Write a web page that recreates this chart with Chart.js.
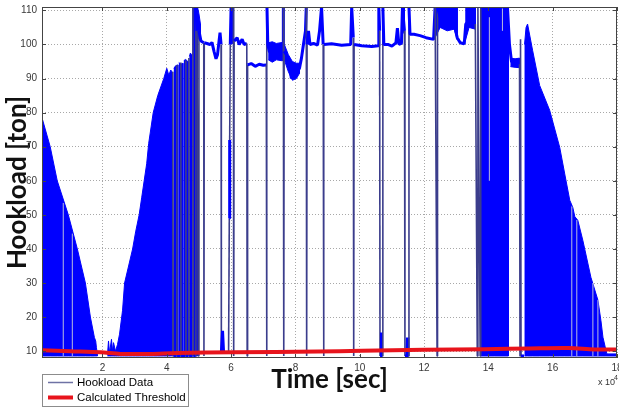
<!DOCTYPE html>
<html>
<head>
<meta charset="utf-8">
<script src="https://cdn.jsdelivr.net/npm/chart.js@4.4.1/dist/chart.umd.min.js"></script>
<style>
  html, body { margin: 0; padding: 0; background: #ffffff; }
  #wrap { width: 619px; height: 408px; }
</style>
</head>
<body>
<div id="wrap"><canvas id="chart" width="619" height="408"></canvas></div>
<script>
// Time is expressed in units of 1e4 s (the axis carries the "x 10^4" multiplier).
const xTicks = [2, 4, 6, 8, 10, 12, 14, 16, 18];
const yTicks = [10, 20, 30, 40, 50, 60, 70, 80, 90, 100, 110];

// Hookload trace: plateaus and the sharp drops to the slips weight.
const traceTime = [
  4.172, 4.188, 4.203, 4.306, 4.313, 4.319, 4.431, 4.438, 4.444, 4.588,
  4.594, 4.600, 4.681, 4.688, 4.694, 4.806, 4.813, 4.828, 4.900, 4.906,
  4.938, 4.984, 5.000, 5.063, 5.150, 5.156, 5.166, 5.250, 5.344, 5.406,
  5.469, 5.531, 5.578, 5.625, 5.656, 5.688, 5.697, 5.734, 5.766, 5.922,
  5.944, 5.956, 5.975, 6.000, 6.072, 6.081, 6.094, 6.188, 6.250, 6.344,
  6.406, 6.488, 6.500, 6.513, 6.625, 6.750, 6.875, 7.000, 7.094, 7.103,
  7.116, 7.141, 7.188, 7.313, 7.438, 7.563, 7.619, 7.625, 7.638, 7.650,
  7.719, 7.813, 7.875, 7.938, 8.000, 8.063, 8.125, 8.188, 8.250, 8.313,
  8.338, 8.350, 8.363, 8.406, 8.453, 8.563, 8.688, 8.750, 8.813, 8.863,
  8.875, 8.888, 9.125, 9.438, 9.719, 9.750, 9.800, 9.813, 9.825, 10.063,
  10.375, 10.578, 10.594, 10.619, 10.631, 10.663, 10.672, 10.681, 10.706, 10.719,
  10.750, 10.875, 11.000, 11.125, 11.172, 11.219, 11.297, 11.328, 11.391, 11.406,
  11.469, 11.484, 11.500, 11.525, 11.531, 11.563, 11.688, 11.875, 12.063, 12.297,
  12.344, 12.406, 12.419, 12.500, 12.719, 12.938, 13.031, 13.125, 13.250, 13.297,
  13.438, 13.594, 13.656, 13.675, 13.744, 13.763, 14.594, 14.656, 14.719, 14.813,
  14.906, 14.969, 14.984, 15.000, 15.016, 15.109
];
const traceLoad = [
  8.6, 92, 8.6, 8.6, 94, 8.6, 8.6, 94.7, 8.6, 8.6,
  95.3, 8.6, 8.6, 96, 8.6, 8.6, 111, 8.6, 8.6, 111,
  104, 8.6, 104, 101, 100.5, 8.6, 100.5, 100.3, 100, 100.6,
  98, 95.8, 97, 101, 103.5, 100, 9.6, 16, 9.6, 9.6,
  49, 72, 100, 111, 111, 8.6, 101, 102, 100, 101.5,
  100, 100.3, 8.6, 94, 94.4, 93.6, 94.2, 93.9, 94, 8.6,
  111, 100, 98, 97, 98.5, 97.5, 98, 111, 8.6, 98,
  97, 94, 90, 91.5, 90.5, 92, 93, 96, 100, 104,
  111, 8.6, 100, 104, 100, 100.3, 99.8, 104, 111, 100,
  8.6, 100, 100.2, 99.8, 100, 111, 102, 8.6, 100, 99.6,
  99.4, 99.6, 111, 104, 8.6, 8.6, 15.5, 8.6, 8.6, 111,
  100, 100, 99.5, 100.5, 104.8, 100, 100.3, 111, 104, 8.6,
  8.6, 14, 8.6, 8.6, 111, 103, 103, 102.6, 102, 101.5,
  111, 8.6, 111, 108, 107, 106, 102, 100.5, 100.2, 106,
  107, 106, 8.6, 111, 8.6, 111, 111, 100, 95, 94.5,
  95.2, 94.2, 8.6, 101.5, 8.6, 8.6
];

// Dense oscillation envelopes (upper / lower); null separates the bands.
const bandTime = [
  0.120, 0.375, 0.594, 0.938, 1.219, 1.469, 1.625, 1.750, 1.790, 1.813, 1.844, 1.860,
  2.156, 2.188, 2.219, 2.281, 2.313, 2.344, 2.406, 2.469, 2.531, 2.625, 2.688, 2.813,
  2.938, 3.031, 3.141, 3.219, 3.297, 3.375, 3.438, 3.578, 3.719, 3.906, 4.000, 4.063,
  4.125, 4.156, 4.170,
  4.219, 4.280, 4.344, 4.350,
  4.375, 4.440, 4.500, 4.510,
  4.531, 4.590, 4.656, 4.670,
  4.703, 4.735, 4.766, 4.780,
  4.797, 4.875, 4.953, 4.954,
  4.956, 5.000, 5.047, 5.060,
  5.975, 6.025, 6.075, 6.080,
  7.156, 7.281, 7.406, 7.594, 7.600,
  7.656, 7.781, 7.906, 8.031, 8.125, 8.130,
  11.328, 11.360, 11.391, 11.400,
  12.344, 12.500, 12.719, 12.938, 13.031, 13.040,
  13.281, 13.400, 13.594, 13.600,
  13.766, 14.200, 14.625, 14.630,
  14.688, 14.830, 14.969, 14.980,
  15.125, 15.172, 15.219, 15.375, 15.594, 15.906, 16.219, 16.375, 16.531, 16.625,
  16.688, 16.781, 16.938, 17.188, 17.406, 17.500, 17.563, 17.656, 17.688, 18.000
];
const bandHigh = [
  78.5, 70, 60, 50, 40, 30, 20, 14, 13, 11, 9, null,
  9, 13, 9.5, 13.5, 10, 12.5, 10, 12, 15, 22, 30, 35,
  40, 45, 50, 55, 60, 65, 71, 80, 85, 90, 93, 91,
  92.5, 92, null,
  93, 93.8, 94, null,
  94.7, 94.2, 94.5, null,
  95.3, 95.6, 95, null,
  96.5, 97.5, 97, null,
  111, 111, 111, null,
  111, 109, 106, null,
  111, 111, 111, null,
  100.5, 100.8, 100.3, 100.6, null,
  100, 97, 95, 94.5, 94.5, null,
  111, 111, 111, null,
  111, 111, 111, 111, 111, null,
  111, 111, 111, null,
  111, 111, 111, null,
  96, 95.8, 96, null,
  100, 105, 106, 98.3, 88, 80.7, 69.8, 62, 54.3, 52.2,
  49.5, 48.4, 42.5, 31.7, 25, 19, 14.1, 10.3, 9.2, 9.2
];
const bandLow = [
  8.6, 8.6, 8.6, 8.6, 8.6, 8.6, 8.6, 8.6, 8.6, 8.6, 8.6, null,
  8.6, 8.6, 8.6, 8.6, 8.6, 8.6, 8.6, 8.6, 8.6, 8.6, 8.6, 8.6,
  8.6, 8.6, 8.6, 8.6, 8.6, 8.6, 8.6, 8.6, 8.6, 8.6, 8.6, 8.6,
  8.6, 8.6, null,
  8.6, 8.6, 8.6, null,
  8.6, 8.6, 8.6, null,
  8.6, 8.6, 8.6, null,
  8.6, 8.6, 8.6, null,
  8.6, 8.6, 8.6, null,
  102, 101.5, 101, null,
  100, 100.5, 100, null,
  95.5, 94.8, 95.5, 95.2, null,
  95.5, 92, 89.5, 90, 91.5, null,
  103, 103.5, 104, null,
  102, 105, 104, 104.5, 101.5, null,
  101, 105, 104.5, null,
  8.6, 8.6, 8.6, null,
  93.5, 93.3, 93.2, null,
  8.6, 8.6, 8.6, 8.6, 8.6, 8.6, 8.6, 8.6, 8.6, 8.6,
  8.6, 8.6, 8.6, 8.6, 8.6, 8.6, 8.6, 8.6, 8.6, 8.6
];

// Short dropouts inside the dense bands.
const dropoutTime = [0.781, 1.063, 14.031, 14.438, 16.594, 16.750, 17.250, 17.406];
const dropoutFrom = [8.6, 8.6, 60, 104, 8.6, 8.6, 8.6, 8.6];
const dropoutTo   = [53.5, 44.5, 108, 111, 52.5, 48.5, 30, 25];

// Calculated threshold.
const thresholdTime = [0.12, 1.0, 1.94, 2.56, 3.5, 4.3, 6.1, 8.7, 10.06, 12.0, 13.9, 15.3, 16.5, 17.3, 18.0];
const thresholdLoad = [10.3, 10.0, 9.7, 9.2, 9.2, 9.5, 9.7, 9.9, 10.1, 10.4, 10.6, 10.8, 10.9, 10.5, 10.5];

const BLUE = '#0000ff';
const NAVY = '#3b3d8c';
const RED = '#e8141c';
const HOOK_LEGEND = '#6e72a4';

const toPoints = (xs, ys) => xs.map((x, i) => ({ x: x, y: ys[i] }));

const dropoutPoints = [];
dropoutTime.forEach((t, i) => {
  dropoutPoints.push({ x: t, y: dropoutFrom[i] }, { x: t, y: dropoutTo[i] }, { x: t, y: null });
});

// Each band becomes one closed outline: upper envelope forward, lower envelope back.
const bandDatasets = [];
(function buildBands() {
  let hi = null, lo = null;
  const flush = () => {
    if (hi && hi.length) {
      bandDatasets.push({
        label: 'band',
        data: hi.concat(lo.reverse()),
        borderColor: BLUE, borderWidth: 1, backgroundColor: BLUE,
        pointRadius: 0, tension: 0, fill: 'shape', order: 3
      });
    }
    hi = null; lo = null;
  };
  bandTime.forEach((t, i) => {
    if (bandHigh[i] === null) { flush(); return; }
    if (!hi) { hi = []; lo = []; }
    hi.push({ x: t, y: bandHigh[i] });
    lo.push({ x: t, y: bandLow[i] });
  });
  flush();
})();

const isDrop = ctx => Math.abs(ctx.p1.parsed.y - ctx.p0.parsed.y) > 25;

const decorations = {
  id: 'decorations',
  afterDatasetsDraw(chart) {
    const { ctx, chartArea: a, scales } = chart;
    const xs = scales.x, ys = scales.y;
    ctx.save();
    ctx.strokeStyle = '#444';
    ctx.lineWidth = 1;
    ctx.beginPath();
    xTicks.forEach(v => {
      const px = Math.round(xs.getPixelForValue(v)) + 0.5;
      ctx.moveTo(px, a.bottom); ctx.lineTo(px, a.bottom - 4);
      ctx.moveTo(px, a.top); ctx.lineTo(px, a.top + 4);
    });
    yTicks.forEach(v => {
      const py = Math.round(ys.getPixelForValue(v)) + 0.5;
      ctx.moveTo(a.left, py); ctx.lineTo(a.left + 4, py);
      ctx.moveTo(a.right, py); ctx.lineTo(a.right - 4, py);
    });
    ctx.stroke();
    ctx.strokeRect(Math.round(a.left) + 0.5, Math.round(a.top) + 0.5,
                   Math.round(a.right - a.left) - 1, Math.round(a.bottom - a.top) - 1);
    ctx.restore();
  },
  afterDraw(chart) {
    const { ctx, chartArea: a } = chart;
    const ds = chart.data.datasets;
    ctx.save();
    // legend box
    const lx = a.left, ly = 374, lw = 146, lh = 32;
    ctx.fillStyle = '#ffffff';
    ctx.fillRect(lx, ly, lw, lh);
    ctx.strokeStyle = '#8c8c8c';
    ctx.lineWidth = 1;
    ctx.strokeRect(lx + 0.5, ly + 0.5, lw, lh);
    const rows = [
      { label: ds[1].label, color: HOOK_LEGEND, width: 1.5, y: ly + 8.5 },
      { label: ds[0].label, color: RED, width: 4, y: ly + 23.5 }
    ];
    ctx.font = '11.5px "Liberation Sans", Arial, sans-serif';
    ctx.textBaseline = 'middle';
    ctx.textAlign = 'left';
    rows.forEach(r => {
      ctx.strokeStyle = r.color;
      ctx.lineWidth = r.width;
      ctx.beginPath();
      ctx.moveTo(lx + 6, r.y); ctx.lineTo(lx + 31, r.y);
      ctx.stroke();
      ctx.fillStyle = '#000000';
      ctx.fillText(r.label, lx + 35, r.y);
    });
    // axis multiplier
    ctx.fillStyle = '#333333';
    ctx.font = '9px "Liberation Sans", Arial, sans-serif';
    ctx.fillText('x 10', 598, 383);
    ctx.font = '7px "Liberation Sans", Arial, sans-serif';
    ctx.fillText('4', 614, 378);
    ctx.restore();
  }
};

new Chart(document.getElementById('chart'), {
  type: 'line',
  data: {
    datasets: [
      {
        label: 'Calculated Threshold',
        data: toPoints(thresholdTime, thresholdLoad),
        borderColor: RED, borderWidth: 4, pointRadius: 0, tension: 0.3,
        fill: false, order: 0, clip: 0
      },
      {
        label: 'Hookload Data',
        data: toPoints(traceTime, traceLoad),
        borderColor: BLUE, borderWidth: 3, pointRadius: 0, tension: 0,
        borderJoinStyle: 'bevel', fill: false, order: 1, clip: 0,
        segment: {
          borderColor: ctx => isDrop(ctx) ? NAVY : BLUE,
          borderWidth: ctx => isDrop(ctx) ? 1.6 : 3
        }
      },
      {
        label: 'dropouts',
        data: dropoutPoints,
        borderColor: '#b9bcdc', borderWidth: 1, pointRadius: 0,
        fill: false, spanGaps: false, order: 2, clip: 0
      },
      ...bandDatasets
    ]
  },
  options: {
    responsive: false,
    animation: false,
    events: [],
    layout: { padding: { left: 0, right: 2, top: 7, bottom: 0 } },
    plugins: { legend: { display: false }, tooltip: { enabled: false } },
    scales: {
      x: {
        type: 'linear', min: 0.12, max: 18,
        afterBuildTicks: s => { s.ticks = xTicks.map(v => ({ value: v })); },
        afterFit: s => { s.height = 50; s.paddingLeft = 0; s.paddingRight = 0; },
        grid: { color: '#a8a8a8', lineWidth: 1, drawTicks: false, tickLength: 0 },
        border: { display: false, dash: [1, 2] },
        ticks: {
          padding: 4, color: '#383838', maxRotation: 0, autoSkip: false,
          font: { family: '"Liberation Sans", Arial, sans-serif', size: 10 },
          callback: v => String(v)
        },
        title: {
          display: true, text: 'Time [sec]', color: '#111111',
          font: { family: 'Lato, "Open Sans", sans-serif', size: 26, weight: 'bold' },
          padding: { top: 0, bottom: 13 }
        }
      },
      y: {
        type: 'linear', min: 8, max: 111,
        afterBuildTicks: s => { s.ticks = yTicks.map(v => ({ value: v })); },
        afterFit: s => { s.width = 42; s.paddingTop = 0; s.paddingBottom = 0; },
        grid: { color: '#a8a8a8', lineWidth: 1, drawTicks: false, tickLength: 0 },
        border: { display: false, dash: [1, 2] },
        ticks: {
          padding: 5, color: '#383838', autoSkip: false,
          font: { family: '"Liberation Sans", Arial, sans-serif', size: 10 },
          callback: v => String(v)
        },
        title: {
          display: true, text: 'Hookload [ton]', color: '#111111',
          font: { family: 'Lato, "Open Sans", sans-serif', size: 26, weight: 'bold' },
          padding: { top: 2, bottom: 0 }
        }
      }
    }
  },
  plugins: [decorations]
});
</script>
</body>
</html>
